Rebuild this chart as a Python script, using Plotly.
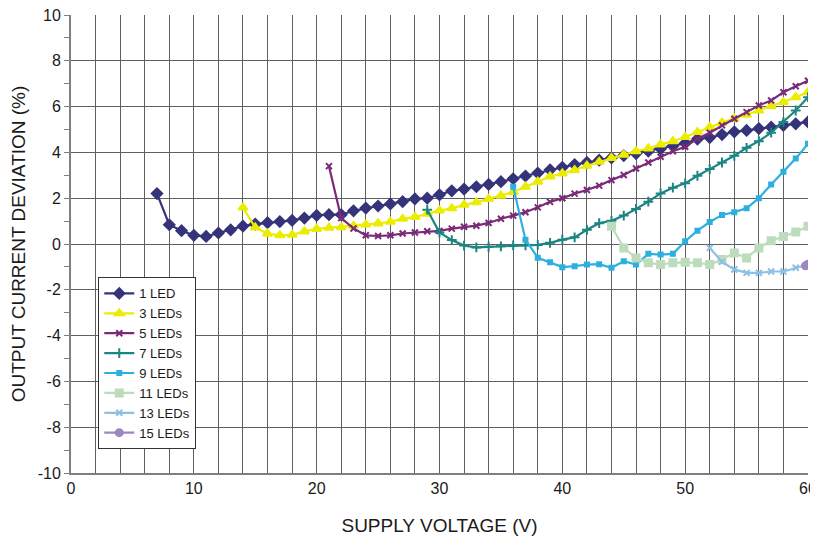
import plotly.graph_objects as go

# ---- data ----
v_1led = list(range(7, 61))
d_1led = [2.2, 0.84, 0.58, 0.38, 0.33, 0.48, 0.62, 0.78, 0.87, 0.93, 0.98, 1.03, 1.13, 1.25,
          1.28, 1.28, 1.45, 1.57, 1.66, 1.75, 1.85, 1.97, 2.0, 2.15, 2.32, 2.4, 2.5, 2.6, 2.72,
          2.85, 2.97, 3.1, 3.24, 3.35, 3.47, 3.56, 3.66, 3.76, 3.86, 3.95, 4.05, 4.16, 4.28,
          4.4, 4.58, 4.65, 4.78, 4.9, 4.96, 5.04, 5.1, 5.18, 5.25, 5.33]

v_3led = list(range(14, 61))
d_3led = [1.59, 0.72, 0.45, 0.38, 0.4, 0.55, 0.66, 0.71, 0.73, 0.79, 0.85, 0.9, 0.97, 1.1,
          1.18, 1.32, 1.46, 1.56, 1.71, 1.82, 1.97, 2.11, 2.27, 2.5, 2.72, 2.95, 3.08, 3.23,
          3.42, 3.59, 3.76, 3.9, 4.05, 4.17, 4.35, 4.49, 4.67, 4.89, 5.1, 5.3, 5.48, 5.64,
          5.83, 6.03, 6.2, 6.41, 6.63]

v_5led = list(range(21, 61))
d_5led = [3.4, 1.13, 0.68, 0.38, 0.35, 0.38, 0.46, 0.5, 0.56, 0.57, 0.67, 0.75, 0.8, 0.92,
          1.1, 1.24, 1.39, 1.6, 1.84, 2.0, 2.2, 2.36, 2.55, 2.79, 3.01, 3.3, 3.56, 3.81,
          4.05, 4.25, 4.6, 4.86, 5.18, 5.47, 5.76, 6.05, 6.27, 6.63, 6.89, 7.13]

v_7led = list(range(29, 61))
d_7led = [1.5, 0.5, 0.17, -0.07, -0.15, -0.12, -0.1, -0.06, -0.06, -0.04, 0.05, 0.19, 0.29,
          0.62, 0.91, 1.01, 1.24, 1.53, 1.85, 2.21, 2.46, 2.65, 2.98, 3.27, 3.56, 3.85, 4.2,
          4.49, 4.86, 5.33, 5.83, 6.41]

v_9led = list(range(36, 61))
d_9led = [2.5, 0.19, -0.6, -0.8, -1.01, -0.97, -0.9, -0.88, -1.04, -0.75, -0.9, -0.43, -0.46,
          -0.43, 0.12, 0.58, 0.96, 1.27, 1.39, 1.56, 2.0, 2.6, 3.15, 3.73, 4.38]

v_11led = list(range(44, 61))
d_11led = [0.77, -0.17, -0.61, -0.82, -0.9, -0.82, -0.8, -0.82, -0.9, -0.68, -0.39, -0.61,
           -0.17, 0.14, 0.33, 0.52, 0.77]

v_13led = list(range(52, 61))
d_13led = [-0.17, -0.78, -1.11, -1.26, -1.26, -1.2, -1.2, -1.04, -0.9]

v_15led = [59.8, 60]
d_15led = [-0.95, -0.88]

x_ticks = [0, 10, 20, 30, 40, 50, 60]
y_ticks = [10, 8, 6, 4, 2, 0, -2, -4, -6, -8, -10]
y_tick_text = ["10", "8", "6", "4", "2", "0", "-2", "-4", "-6", "-8", "-10"]

series = [
    ("1 LED", v_1led, d_1led, "#35337a", "diamond", 8),
    ("3 LEDs", v_3led, d_3led, "#ecec00", "triangle-up", 8),
    ("5 LEDs", v_5led, d_5led, "#7b2a7a", "x-thin", 6),
    ("7 LEDs", v_7led, d_7led, "#1b8584", "cross-thin", 7),
    ("9 LEDs", v_9led, d_9led, "#2bb0e0", "square", 4),
    ("11 LEDs", v_11led, d_11led, "#bcdcbc", "square", 7),
    ("13 LEDs", v_13led, d_13led, "#8cc0e4", "x-thin", 6),
    ("15 LEDs", v_15led, d_15led, "#9b88c0", "circle", 7),
]

fig = go.Figure()
for name, xs, ys, col, sym, sz in series:
    fig.add_trace(go.Scatter(
        x=xs, y=ys, name=name, mode="lines+markers",
        line=dict(color=col, width=2.2),
        marker=dict(symbol=sym, size=sz, color=col, line=dict(color=col, width=2)),
    ))

font = "Liberation Sans, Arial, sans-serif"
fig.update_layout(
    width=810, height=528,
    margin=dict(l=63, r=10, t=7, b=63),
    paper_bgcolor="white", plot_bgcolor="white",
    font=dict(family=font, size=16, color="#1a1a1a"),
    showlegend=True,
    legend=dict(x=0.037, y=0.427, xanchor="left", yanchor="top",
                bgcolor="white", bordercolor="#333333", borderwidth=1,
                font=dict(size=13, family=font, color="#1a1a1a"),
                tracegroupgap=0, itemwidth=30),
)
fig.update_xaxes(
    range=[0, 60], tickvals=x_ticks, showgrid=True, gridcolor="#606060", gridwidth=1,
    showline=True, linecolor="#808080", linewidth=2, mirror=False,
    ticks="", zeroline=False, automargin=False, ticklabeloverflow="allow",
    minor=dict(dtick=2, showgrid=True, gridcolor="#606060", gridwidth=1),
    title=dict(text="SUPPLY VOLTAGE (V)", standoff=22),
    tickfont=dict(size=16),
)
fig.update_yaxes(
    range=[-10, 10], tickvals=y_ticks, ticktext=y_tick_text,
    showgrid=True, gridcolor="#606060", gridwidth=1,
    showline=True, linecolor="#808080", linewidth=2,
    ticks="outside", ticklen=5, tickcolor="#808080", zeroline=False, automargin=False,
    ticklabeloverflow="allow",
    minor=dict(dtick=1, ticks="outside", ticklen=5, tickcolor="#808080", showgrid=False),
    title=dict(text="OUTPUT CURRENT DEVIATION (%)", standoff=10),
    tickfont=dict(size=16),
)
fig.write_html("out.html")
